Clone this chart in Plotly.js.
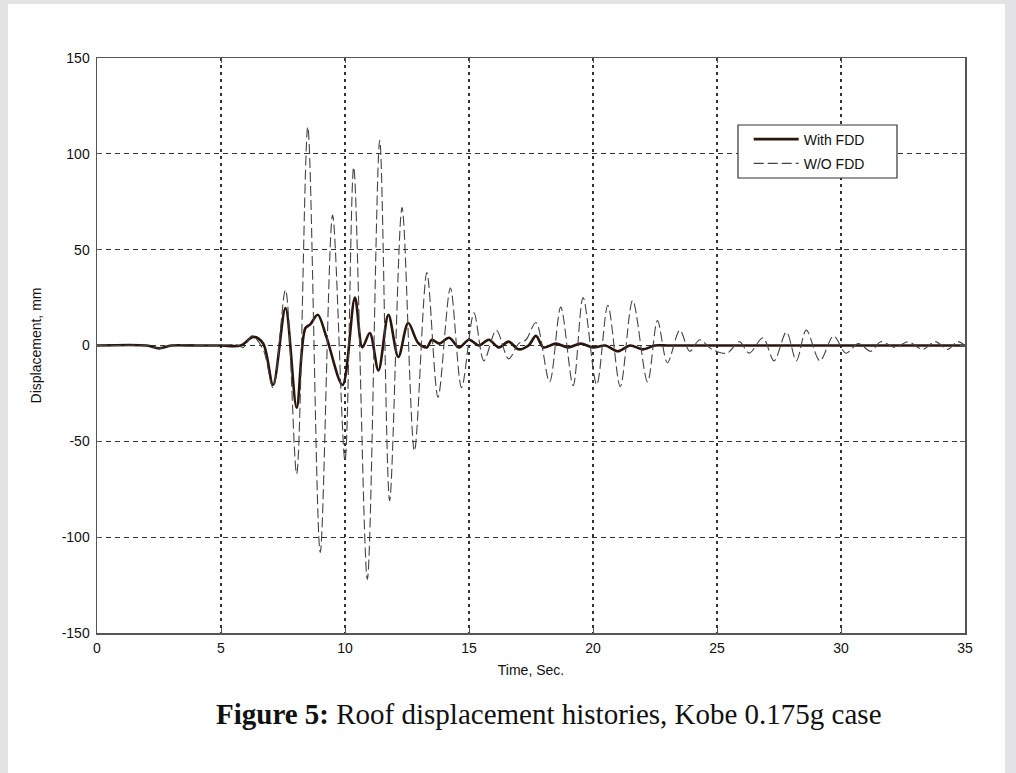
<!DOCTYPE html>
<html>
<head>
<meta charset="utf-8">
<script src="https://cdn.plot.ly/plotly-3.0.1.min.js"></script>
<style>
  html, body { margin: 0; padding: 0; background: #e3e3e5; }
  #panel { position: absolute; left: 8px; top: 4px; width: 997px; height: 769px; background: #ffffff; }
  #chart { position: absolute; left: 0; top: 0; width: 1016px; height: 773px; }
</style>
</head>
<body>
<div id="panel"></div>
<div id="chart"></div>
<script>
// W/O FDD (uncontrolled) roof displacement, mm
const timeWithout = [0, 1, 2, 2.6, 3.0, 3.4, 4, 5, 5.6, 5.9, 6.25, 6.7, 7.1, 7.6, 8.05, 8.5, 9.0, 9.5, 10.0, 10.35, 10.9, 11.4, 11.8, 12.3, 12.8, 13.3, 13.75, 14.25, 14.7, 15.2, 15.6, 16.1, 16.6, 17.0, 17.3, 17.7, 18.25, 18.7, 19.2, 19.6, 20.15, 20.6, 21.1, 21.6, 22.2, 22.6, 23.0, 23.5, 23.9, 24.3, 24.8, 25.4, 25.9, 26.3, 26.85, 27.3, 27.8, 28.2, 28.6, 29.15, 29.7, 30.2, 30.7, 31.2, 31.6, 32.2, 32.7, 33.3, 33.8, 34.3, 34.7, 35];
const dispWithout = [0, 0, 0, -1.5, 0, 0.5, 0, 0, 0.5, -1, 5, -2, -22, 29, -67, 114, -108, 68, -60, 93, -122, 107, -81, 72, -55, 38, -27, 30, -22, 17, -8, 8, -7, 1, 3, 12, -19, 20, -21, 25, -20.5, 21, -21.5, 23.5, -19, 13, -9, 8, -3, 3, -2, -4, 2, -4, 4, -8, 7, -8, 8, -8, 5, -4, 1, -3, 2, -1, 2, -2, 2, -2, 2, 0];

// With FDD (controlled) roof displacement, mm
const timeWith = [0, 2, 2.5, 3, 4, 5, 5.8, 6.3, 6.7, 7.1, 7.6, 8.05, 8.4, 8.6, 8.9, 9.25, 9.9, 10.4, 10.7, 11.0, 11.35, 11.75, 12.15, 12.55, 12.95, 13.3, 13.5, 13.8, 14.2, 14.6, 15.0, 15.4, 15.8, 16.2, 16.6, 17.0, 17.4, 17.7, 18.0, 18.5, 19.0, 19.5, 20.0, 20.5, 21.0, 21.5, 22.0, 22.5, 23, 24, 25, 30, 35];
const dispWith = [0, 0, -1.5, 0, 0, 0, 0, 4.5, 1, -20.6, 19.5, -32.5, 9, 11, 16, 4.5, -20.6, 25, -1, 6.5, -13, 16, -6, 11.7, 1.3, -1, 3, 1, 4, -1, 3, 0, 3, -1, 2, -2, 0, 5, -1, 1, -1, 1, -1, 0, -3, 0, -2, 0, 0, 0, 0, 0, 0];

const seriesNames = ["With FDD", "W/O FDD"];
const xTicks = [0, 5, 10, 15, 20, 25, 30, 35];
const yTicks = [-150, -100, -50, 0, 50, 100, 150];

const traces = [
  {
    x: timeWith, y: dispWith, name: seriesNames[0], legendgroup: "a", type: "scatter", mode: "lines",
    line: { color: "#2a160c", width: 2.6, shape: "spline", smoothing: 0.9 }
  },
  {
    x: timeWithout, y: dispWithout, name: seriesNames[1], legendgroup: "b", type: "scatter", mode: "lines",
    line: { color: "#444444", width: 1.1, dash: "10px,4px", shape: "spline", smoothing: 0.9 }
  }
];

const sansFont = "Liberation Sans, Arial, sans-serif";
const tickFont = { family: sansFont, size: 14, color: "#111" };

const layout = {
  width: 1016, height: 773,
  paper_bgcolor: "rgba(0,0,0,0)",
  plot_bgcolor: "#ffffff",
  margin: { l: 97, r: 51, t: 58, b: 140 },
  showlegend: true,
  legend: {
    x: 0.7508, y: 0.886, xanchor: "left", yanchor: "top",
    bgcolor: "rgba(0,0,0,0)", borderwidth: 0,
    font: { family: sansFont, size: 14, color: "#111" },
    itemwidth: 45,
    tracegroupgap: 3
  },
  shapes: [
    {
      type: "rect", xref: "paper", yref: "paper",
      x0: (738 - 97) / 868, x1: (897 - 97) / 868,
      y0: (633 - 178) / 575, y1: (633 - 125) / 575,
      fillcolor: "#ffffff", line: { color: "#333", width: 1.2 }, layer: "above"
    }
  ],
  xaxis: {
    range: [0, 35], tickvals: xTicks, ticktext: xTicks.map(String),
    showline: true, linecolor: "#555", linewidth: 1.5, mirror: "ticks",
    ticks: "inside", ticklen: 5, tickcolor: "#555",
    showgrid: true, gridcolor: "#333", gridwidth: 1.3, griddash: "3px,4px",
    zeroline: false, tickfont: tickFont, ticklabelstandoff: 2,
    title: { text: "Time, Sec.", font: { family: sansFont, size: 14, color: "#111" }, standoff: 10 }
  },
  yaxis: {
    range: [-150, 150], tickvals: yTicks, ticktext: yTicks.map(String),
    showline: true, linecolor: "#555", linewidth: 1.5, mirror: "ticks",
    ticks: "inside", ticklen: 5, tickcolor: "#555",
    showgrid: true, gridcolor: "#333", gridwidth: 1.3, griddash: "5px,4px",
    zeroline: false, tickfont: tickFont, ticklabelstandoff: 3,
    title: { text: "Displacement, mm", font: { family: sansFont, size: 14, color: "#111" }, standoff: 17 }
  },
  annotations: [
    {
      xref: "paper", yref: "paper", x: 0.5207, y: -0.14, xanchor: "center", yanchor: "middle",
      text: "<b>Figure 5:</b> Roof displacement histories, Kobe 0.175g case",
      showarrow: false,
      font: { family: "Liberation Serif, Times New Roman, serif", size: 29, color: "#111" }
    }
  ]
};

Plotly.newPlot("chart", traces, layout, { displayModeBar: false, staticPlot: true });
</script>
</body>
</html>
